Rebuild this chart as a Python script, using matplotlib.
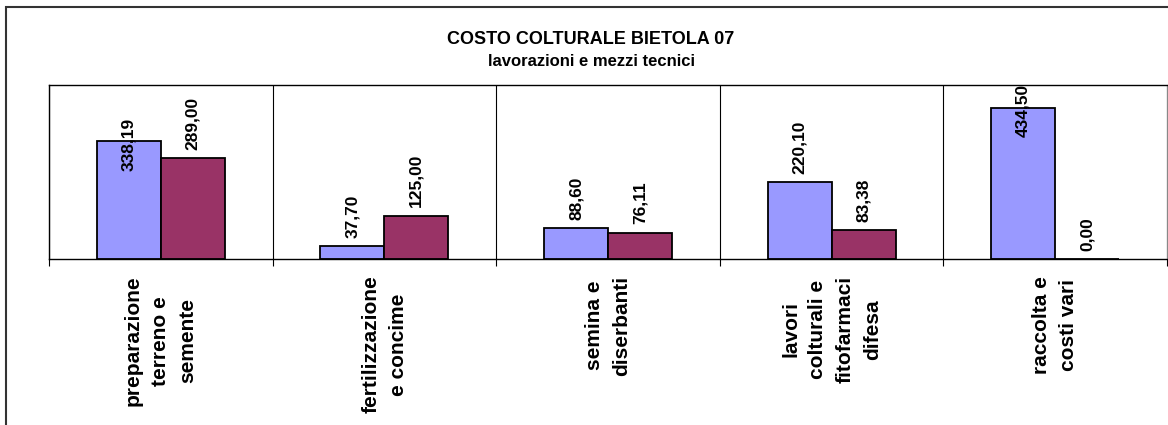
import matplotlib
matplotlib.use('Agg')
import matplotlib.pyplot as plt
from matplotlib.patches import Rectangle
import numpy as np

# Data
categories = ['preparazione\nterreno e\nsemente',
              'fertilizzazione\ne concime',
              'semina e\ndiserbanti',
              'lavori\ncolturali e\nfitofarmaci\ndifesa',
              'raccolta e\ncosti vari']
serie_blu = [338.19, 37.70, 88.60, 220.10, 434.50]
serie_rossa = [289.00, 125.00, 76.11, 83.38, 0.00]

plt.rcParams['font.family'] = ['Liberation Sans', 'DejaVu Sans']
plt.rcParams['font.weight'] = 'bold'

W, H = 1168, 425
fig = plt.figure(figsize=(W / 100, H / 100), dpi=100)
ax = fig.add_axes([49 / W, 1 - 259 / H, (1167 - 49) / W, (259 - 85) / H])

x = np.arange(len(categories))
bw = 0.286
bars1 = ax.bar(x - bw / 2, serie_blu, bw, color='#9999FF', edgecolor='black', linewidth=1.3)
bars2 = ax.bar(x + bw / 2, serie_rossa, bw, color='#993366', edgecolor='black', linewidth=1.3)

ax.set_xlim(-0.5, len(categories) - 0.5)
ax.set_ylim(0, 500)
ax.set_yticks([])

ax.set_xticks(x)
ax.set_xticklabels(categories, rotation=90, ha='center', va='top',
                   multialignment='center', fontsize=15, fontweight='bold',
                   linespacing=1.55)
ax.tick_params(axis='x', which='major', length=0, pad=12)
ax.set_xticks(np.arange(-0.5, len(categories)), minor=True)
ax.tick_params(axis='x', which='minor', length=5, direction='out', width=0.8)
ax.grid(True, axis='x', which='minor', color='black', linewidth=0.8)

for s in ['left', 'top', 'bottom']:
    ax.spines[s].set_color('black')
    ax.spines[s].set_linewidth(1.0)
ax.spines['right'].set_color('#888888')

# etichette valori
labels = []
for bars, vals in [(bars1, serie_blu), (bars2, serie_rossa)]:
    for b, v in zip(bars, vals):
        t = ax.annotate(f'{v:.2f}'.replace('.', ','),
                        (b.get_x() + b.get_width() / 2, v),
                        xytext=(0, 6), textcoords='offset points',
                        rotation=90, ha='center', va='bottom',
                        fontsize=12.5, fontweight='bold')
        labels.append(t)

fig.canvas.draw()
ax_top = ax.get_window_extent().y1
for t in labels:
    if t.get_window_extent().y1 > ax_top:
        t.set_va('center')
        t.xyann = (0, -2)

fig.text(591 / W, 1 - 40 / H, 'COSTO COLTURALE BIETOLA 07', ha='center', va='center',
         fontsize=13, fontweight='bold')
fig.text(591 / W, 1 - 62 / H, 'lavorazioni e mezzi tecnici', ha='center', va='center',
         fontsize=12, fontweight='bold')

# bordo area grafico
fig.add_artist(Rectangle((6 / W, -0.05), 1.1, 1 - 7 / H + 0.05, transform=fig.transFigure,
                         fill=False, edgecolor='#333333', linewidth=1.5))

fig.savefig('out.png', dpi=100)
